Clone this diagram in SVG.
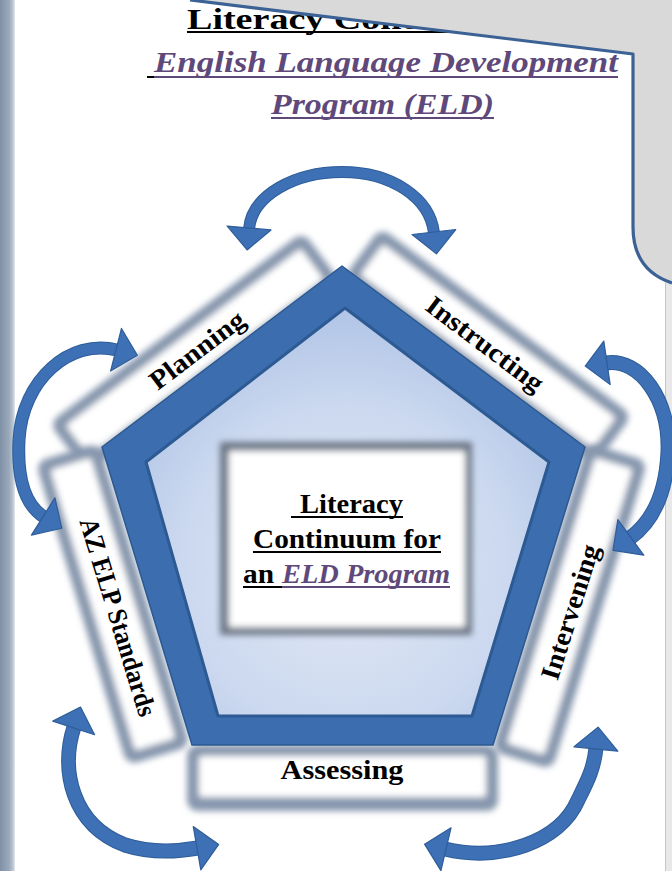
<svg xmlns="http://www.w3.org/2000/svg" width="672" height="871" viewBox="0 0 672 871">
  <defs>
    <style>
      .lbl { font-family: "Liberation Serif", "DejaVu Serif", serif; font-weight: bold; font-size: 27px; fill: #000; }
      .ttl { font-family: "Liberation Serif", "DejaVu Serif", serif; font-weight: bold; font-size: 30px; }
      .ital { font-style: italic; fill: #5f497a; }
      .ul-k { stroke: #000; stroke-width: 2; }
      .ul-p { stroke: #5f497a; stroke-width: 2; }
      .arrow { fill: none; stroke: #3d70b4; stroke-linecap: butt; }
      .arrow-edge { fill: none; stroke: #2e5d99; stroke-linecap: butt; }
      .frame { fill: #8797ae; }
      .inner { fill: #ffffff; }
    </style>
    <linearGradient id="edgeBar" x1="0" y1="0" x2="1" y2="0">
      <stop offset="0" stop-color="#7f90a6"/>
      <stop offset="0.6" stop-color="#9aa9ba"/>
      <stop offset="0.85" stop-color="#b9c4d0"/>
      <stop offset="1" stop-color="#e6eaef"/>
    </linearGradient>
    <radialGradient id="core" gradientUnits="userSpaceOnUse" cx="345" cy="570" r="300">
      <stop offset="0" stop-color="#e2e9f6"/>
      <stop offset="0.55" stop-color="#cbd8ef"/>
      <stop offset="1" stop-color="#a6bde3"/>
    </radialGradient>
    <filter id="soft" x="-20%" y="-40%" width="140%" height="180%">
      <feGaussianBlur stdDeviation="3.4"/>
    </filter>
    <filter id="softer" x="-20%" y="-20%" width="140%" height="140%">
      <feGaussianBlur stdDeviation="3.2"/>
    </filter>
    <marker id="head" markerUnits="userSpaceOnUse" markerWidth="34" markerHeight="54" viewBox="-2 -27 34 54" refX="1" refY="0" orient="auto-start-reverse">
      <path d="M0,-22 L22,0 L0,22 Z" fill="#3d70b4" stroke="#2e5d99" stroke-width="1.2" stroke-linejoin="round"/>
    </marker>
  </defs>

  <!-- page -->
  <rect x="0" y="0" width="672" height="871" fill="#ffffff"/>
  <rect x="0" y="0" width="15" height="871" fill="url(#edgeBar)"/>
  <rect x="666" y="283" width="6" height="588" fill="#e8e8e8"/>
  <line x1="665.5" y1="283" x2="665.5" y2="871" stroke="#c6c6c6" stroke-width="1"/>

  <!-- heading -->
  <g id="heading">
    <text class="ttl" x="187" y="29" font-size="32" textLength="391" lengthAdjust="spacingAndGlyphs">Literacy Continuum for</text>
    <line class="ul-k" x1="187" y1="32" x2="578" y2="32"/>
    <line class="ul-k" x1="147" y1="77" x2="154" y2="77"/>
    <text class="ttl ital" x="154" y="72" textLength="464" lengthAdjust="spacingAndGlyphs">English Language Development</text>
    <line class="ul-p" x1="154" y1="77" x2="618" y2="77"/>
    <text class="ttl ital" x="271" y="114" textLength="223" lengthAdjust="spacingAndGlyphs">Program (ELD)</text>
    <line class="ul-p" x1="271" y1="118" x2="494" y2="118"/>
  </g>

  <!-- folded corner panel -->
  <path d="M190,0 L633,54 L633,227 C633,258 648,275 672,283 L672,0 Z" fill="#d9d9d9"/>
  <path d="M190,0 L633,54 L633,227 C633,258 648,275 672,283" fill="none" stroke="#3b6195" stroke-width="3.2" stroke-linejoin="round"/>

  <!-- side bars -->
  <g id="bar-planning">
    <g transform="translate(102 447) rotate(-37)" filter="url(#soft)">
      <rect class="frame" x="-28" y="-51" width="318" height="62" rx="11"/>
      <rect class="inner" x="-16" y="-39" width="294" height="38" rx="3"/>
    </g>
  </g>
  <g id="bar-instructing">
    <g transform="translate(342 266) rotate(36.7)" filter="url(#soft)">
      <rect class="frame" x="8" y="-54" width="314" height="62" rx="11"/>
      <rect class="inner" x="20" y="-42" width="290" height="38" rx="3"/>
    </g>
  </g>
  <g id="bar-intervening">
    <g transform="translate(585 447) rotate(107.2)" filter="url(#soft)">
      <rect class="frame" x="-5" y="-64" width="323" height="63" rx="11"/>
      <rect class="inner" x="7" y="-52" width="299" height="39" rx="3"/>
    </g>
  </g>
  <g id="bar-standards">
    <g transform="translate(102 447) rotate(73.2)" filter="url(#soft)">
      <rect class="frame" x="-5" y="2" width="317" height="66" rx="11"/>
      <rect class="inner" x="7" y="14" width="293" height="42" rx="3"/>
    </g>
  </g>
  <g id="bar-assessing">
    <g filter="url(#soft)">
      <rect class="frame" x="187" y="745" width="311" height="66" rx="11"/>
      <rect class="inner" x="199" y="756" width="287" height="41" rx="3"/>
    </g>
  </g>

  <!-- pentagon -->
  <g id="pentagon">
    <polygon points="342,266 585,447 493,745 192,745 102,447" fill="#3b6daf" stroke="#2c5990" stroke-width="1.5" stroke-linejoin="round"/>
    <polygon points="345,308 549,462 472,716 218,716 146,462" fill="url(#core)" stroke="#2d5a93" stroke-width="3" stroke-linejoin="round"/>
  </g>

  <!-- centre box -->
  <g id="centre">
    <g filter="url(#softer)">
      <rect x="220" y="442" width="252" height="193" fill="#6c7786"/>
      <rect x="229" y="451" width="236" height="176" fill="#ffffff"/>
    </g>
    <text class="lbl" x="300" y="513" textLength="103" lengthAdjust="spacingAndGlyphs">Literacy</text>
    <line class="ul-k" x1="291" y1="517" x2="403" y2="517"/>
    <text class="lbl" x="253" y="548" textLength="188" lengthAdjust="spacingAndGlyphs">Continuum for</text>
    <line class="ul-k" x1="253" y1="552" x2="441" y2="552"/>
    <text class="lbl" x="243" y="583" textLength="31" lengthAdjust="spacingAndGlyphs">an</text>
    <line class="ul-k" x1="243" y1="587" x2="282" y2="587"/>
    <text class="lbl ital" x="282" y="583" textLength="168" lengthAdjust="spacingAndGlyphs">ELD Program</text>
    <line class="ul-p" x1="282" y1="587" x2="450" y2="587"/>
  </g>

  <!-- bar labels -->
  <g id="label-planning"><text class="lbl" transform="translate(197 350) rotate(-37)" x="0" y="9" text-anchor="middle" textLength="112" lengthAdjust="spacingAndGlyphs">Planning</text></g>
  <g id="label-instructing"><text class="lbl" transform="translate(485 344) rotate(37)" x="0" y="9" text-anchor="middle" textLength="140" lengthAdjust="spacingAndGlyphs">Instructing</text></g>
  <g id="label-intervening"><text class="lbl" transform="translate(570 612) rotate(-72.5)" x="0" y="9" text-anchor="middle" textLength="140" lengthAdjust="spacingAndGlyphs">Intervening</text></g>
  <g id="label-standards"><text class="lbl" transform="translate(118 617) rotate(73)" x="0" y="9" text-anchor="middle" textLength="206" lengthAdjust="spacingAndGlyphs">AZ ELP Standards</text></g>
  <g id="label-assessing"><text class="lbl" x="342" y="779" text-anchor="middle" textLength="123" lengthAdjust="spacingAndGlyphs">Assessing</text></g>

  <!-- cycle arrows -->
  <g id="connectors">
    <path class="arrow-edge" stroke-width="12" d="M249,229 C252,195 295,172 342,172 C392,172 430,198 434,233"/>
    <path class="arrow" stroke-width="10" marker-start="url(#head)" marker-end="url(#head)" d="M249,229 C252,195 295,172 342,172 C392,172 430,198 434,233"/>

    <path class="arrow-edge" stroke-width="15" d="M606,363 C640,358 670,400 668,452 C666,495 652,522 630,538"/>
    <path class="arrow" stroke-width="13" marker-start="url(#head)" marker-end="url(#head)" d="M606,363 C640,358 670,400 668,452 C666,495 652,522 630,538"/>

    <path class="arrow-edge" stroke-width="13" d="M117,350 C70,338 22,380 19,440 C17,480 25,505 44,517"/>
    <path class="arrow" stroke-width="11" marker-start="url(#head)" marker-end="url(#head)" d="M117,350 C70,338 22,380 19,440 C17,480 25,505 44,517"/>

    <path class="arrow-edge" stroke-width="15" d="M74,727 C60,770 72,825 125,845 C150,853 175,852 198,848"/>
    <path class="arrow" stroke-width="13" marker-start="url(#head)" marker-end="url(#head)" d="M74,727 C60,770 72,825 125,845 C150,853 175,852 198,848"/>

    <path class="arrow-edge" stroke-width="15" d="M445,849 C500,862 560,842 578,800 C588,780 594,768 596,748"/>
    <path class="arrow" stroke-width="13" marker-start="url(#head)" marker-end="url(#head)" d="M445,849 C500,862 560,842 578,800 C588,780 594,768 596,748"/>
  </g>
</svg>
